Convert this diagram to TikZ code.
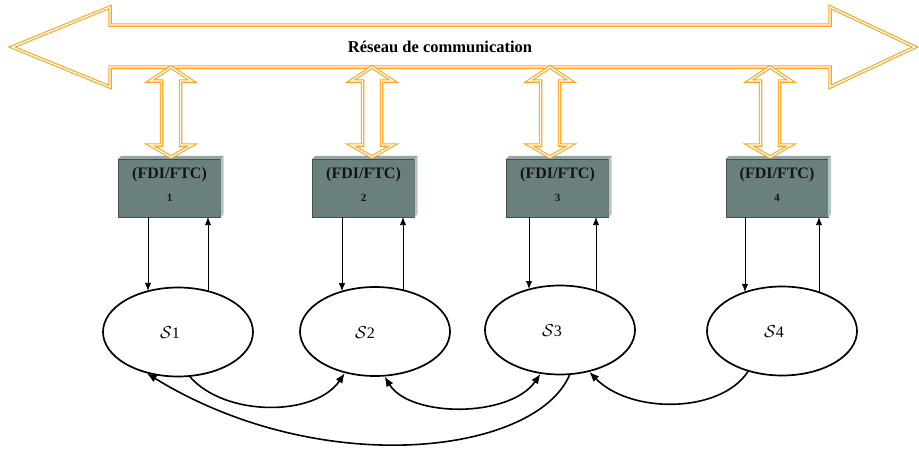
\documentclass[tikz,border=0pt]{standalone}
\usepackage{fontspec}
\setmainfont{Liberation Serif}
\usetikzlibrary{arrows.meta,shapes.geometric,calc}
\definecolor{arrowor}{RGB}{255,163,26}
\definecolor{boxfront}{RGB}{106,128,126}
\definecolor{boxtop}{RGB}{150,165,163}
\definecolor{boxside}{RGB}{178,198,196}
\newcommand\fdiunit[3]{%
  \node[fdibox] (#1) at (#2,188) {};
  \fill[boxtop] (#1.north west) -- ++(3,-3) -- ($(#1.north east)+(3,-3)$) -- (#1.north east) -- cycle;
  \fill[boxside] (#1.north east) -- ++(3,-3) -- ($(#1.south east)+(3,-3)$) -- (#1.south east) -- cycle;
  \node[boxtitle] (#1t) at ($(#1.center)+(0,-13)$) {(FDI/FTC)};
  \node[boxnum] (#1n) at ($(#1.center)+(0,10)$) {#3};
}
\newcommand\vdarrow[1]{%
  \draw[orline, fill=white] (#1,67) -- ({#1+21},81) -- ({#1+9.5},81) -- ({#1+9.5},145) -- ({#1+21},145) -- (#1,157) -- ({#1-21},145) -- ({#1-9.5},145) -- ({#1-9.5},81) -- ({#1-21},81) -- cycle;
}
\begin{document}
\begin{tikzpicture}[x=1pt,y=-1pt,
  orline/.style={draw=arrowor, line width=1.1pt, double=white, double distance=1.3pt, line join=miter},
  fdibox/.style={rectangle, fill=boxfront, draw=gray!60!black, line width=0.3pt, minimum width=102pt, minimum height=58pt, inner sep=0pt},
  boxtitle/.style={inner sep=0pt, font=\bfseries\fontsize{16}{18}\selectfont, text=black!92},
  boxnum/.style={inner sep=0pt, font=\bfseries\fontsize{11}{12}\selectfont, text=black!92},
  station/.style={ellipse, draw, line width=1.7pt, minimum width=150pt, minimum height=89pt, inner sep=0pt},
  slabel/.style={inner sep=0pt, font=\fontsize{16}{18}\selectfont},
  link/.style={line width=0.9pt, -{Latex[length=8pt,width=6.5pt]}},
  curvelink/.style={line width=1.6pt, -{Latex[length=10pt,width=8pt]}},
  curvelinkb/.style={line width=1.6pt, {Latex[length=10pt,width=8pt]}-{Latex[length=10pt,width=8pt]}},
]
\useasboundingbox (0,0) rectangle (919,453);

% communication network arrow
\draw[orline] (12,47) -- (110,7) -- (110,25) -- (830,25) -- (830,7) -- (915,47) -- (830,87) -- (830,67) -- (110,67) -- (110,87) -- cycle;
\node[inner sep=0pt, font=\bfseries\fontsize{16.5}{18}\selectfont] (net) at (440,47) {Réseau de communication};

% FDI/FTC units
\fdiunit{b1}{169.5}{1}
\fdiunit{b2}{363.5}{2}
\fdiunit{b3}{557.5}{3}
\fdiunit{b4}{777}{4}

% vertical double arrows
\vdarrow{171}
\vdarrow{372}
\vdarrow{550}
\vdarrow{770}

% stations
\node[station] (s1) at (178,332) {};
\node[station] (s2) at (375,331.5) {};
\node[station] (s3) at (560,330) {};
\node[station] (s4) at (782,331) {};
\node[slabel] (l1) at ($(s1.center)+(-8,1)$) {$\mathcal{S}$1};
\node[slabel] (l2) at ($(s2.center)+(-10,1)$) {$\mathcal{S}$2};
\node[slabel] (l3) at ($(s3.center)+(-8,1)$) {$\mathcal{S}$3};
\node[slabel] (l4) at ($(s4.center)+(-8,1)$) {$\mathcal{S}$4};

% unit <-> station arrows
\draw[link] (b1.south -| 148,0) -- ($(s1.center)+(-30,-41.2)$);
\draw[link] ($(s1.center)+(30,-41.2)$) -- (b1.south -| 208,0);
\draw[link] (b2.south -| 342,0) -- ($(s2.center)+(-33,-40.4)$);
\draw[link] ($(s2.center)+(28,-41.7)$) -- (b2.south -| 403,0);
\draw[link] (b3.south -| 529,0) -- ($(s3.center)+(-31,-41)$);
\draw[link] ($(s3.center)+(36,-39.5)$) -- (b3.south -| 596,0);
\draw[link] (b4.south -| 745,0) -- ($(s4.center)+(-37,-39.1)$);
\draw[link] ($(s4.center)+(37,-39.1)$) -- (b4.south -| 819,0);

% station links
\draw[curvelink] (s1.-75) .. controls (225,417) and (315,417) .. (s2.-126);
\draw[curvelinkb] (s2.-78) .. controls (410,418) and (510,418) .. (s3.-114);
\draw[curvelink] (s4.-130) .. controls (720,414) and (630,414) .. (s3.-55);
\draw[curvelink] (s3.-78) .. controls (535,455) and (320,480) .. (s1.-127);
\end{tikzpicture}
\end{document}
